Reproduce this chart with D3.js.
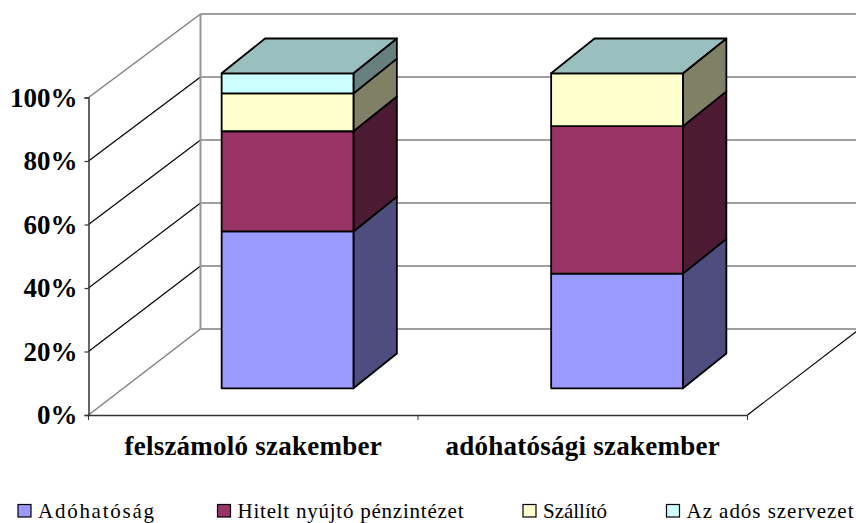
<!DOCTYPE html>
<html><head><meta charset="utf-8">
<script src="https://cdn.jsdelivr.net/npm/d3@7"></script>
<style>
html,body{margin:0;padding:0;background:#fff}
svg{display:block}
text{font-family:"Liberation Serif",serif;fill:#000}
</style></head><body>
<svg id="c" width="856" height="523"></svg>
<script>
const categories = ["felszámoló szakember", "adóhatósági szakember"];
const seriesNames = ["Adóhatóság", "Hitelt nyújtó pénzintézet", "Szállító", "Az adós szervezet"];
const adohatosag = [49.8, 36.4];
const hitelt = [31.8, 46.8];
const szallito = [12.0, 16.8];
const adosSzervezet = [6.4, 0];
const seriesValues = [adohatosag, hitelt, szallito, adosSzervezet];
const tickValues = [0, 20, 40, 60, 80, 100];
const frontColors = ["#9999FF", "#993366", "#FFFFCC", "#CCFFFF"];
const sideColors = ["#4D4D80", "#4D1A33", "#808066", "#668080"];
const topColor = "#9ABFBF";

const svg = d3.select("#c");
const L = 88.5, R = 747.5, B = 415, T = 97.5;
const wallDx = 112;
const barDx = 34.3, depthDx = 43.4, depthDy = -34.8;

const y = d3.scaleLinear().domain([0, 100]).range([B, T]);
const yBack = d3.scaleLinear().domain([0, 100]).range([329, 14]);
const yBar = d3.scaleLinear().domain([0, 100]).range([388.3, 73.3]);
const x = d3.scaleBand().domain(categories).range([L, R]).paddingInner(0.6).paddingOuter(0.3);
const xEdge = d3.scaleBand().domain(categories).range([L, R]);

// back wall and side wall gridlines
const grid = svg.append("g");
tickValues.forEach(t => {
  const edge = t === 0 || t === 100;
  grid.append("line")
    .attr("x1", L).attr("y1", y(t)).attr("x2", L + wallDx).attr("y2", yBack(t))
    .attr("stroke", edge ? "#808080" : "#000").attr("stroke-width", edge ? 1.5 : 1.15);
  grid.append("line")
    .attr("x1", L + wallDx).attr("y1", yBack(t)).attr("x2", 856).attr("y2", yBack(t))
    .attr("stroke", "#808080").attr("stroke-width", 1.6);
});
grid.append("line").attr("x1", L + wallDx).attr("x2", L + wallDx)
  .attr("y1", yBack(100)).attr("y2", yBack(0))
  .attr("stroke", "#969696").attr("stroke-width", 2);
grid.append("line").attr("x1", R).attr("y1", B).attr("x2", R + wallDx).attr("y2", yBack(0))
  .attr("stroke", "#000").attr("stroke-width", 1.15);

// bars
const bars = svg.append("g").attr("stroke", "#000").attr("stroke-width", 1.8).attr("stroke-linejoin", "round");
const poly = pts => pts.map(p => p.join(",")).join(" ");
categories.forEach((cat, i) => {
  const x0 = x(cat) + barDx, x1 = x0 + x.bandwidth();
  let acc = 0;
  seriesValues.forEach((vals, s) => {
    const v = vals[i];
    if (v <= 0) return;
    const y0 = yBar(acc), y1 = yBar(acc + v);
    acc += v;
    bars.append("polygon")
      .attr("points", poly([[x1, y0], [x1 + depthDx, y0 + depthDy], [x1 + depthDx, y1 + depthDy], [x1, y1]]))
      .attr("fill", sideColors[s]);
    bars.append("rect")
      .attr("x", x0).attr("y", y1).attr("width", x1 - x0).attr("height", y0 - y1)
      .attr("fill", frontColors[s]);
  });
  const yt = yBar(acc);
  bars.append("polygon")
    .attr("points", poly([[x0, yt], [x0 + depthDx, yt + depthDy], [x1 + depthDx, yt + depthDy], [x1, yt]]))
    .attr("fill", topColor);
});

// value axis
const yAxis = svg.append("g").attr("transform", `translate(${L},0)`)
  .call(d3.axisLeft(y).tickValues(tickValues).tickFormat(d => d + "%").tickSize(4).tickPadding(7));
yAxis.select(".domain").attr("stroke", "#333").attr("stroke-width", 1.5);
yAxis.selectAll(".tick line").attr("stroke", "#333").attr("stroke-width", 1.2);
yAxis.selectAll("text").attr("font-size", 27).attr("font-weight", "bold")
  .attr("dy", "0.32em")
  .style("font-family", '"Liberation Serif",serif').attr("fill", "#000");

// category axis
const xAxis = svg.append("g").attr("transform", `translate(0,${B})`)
  .call(d3.axisBottom(xEdge).tickSizeOuter(0).tickSizeInner(0).tickPadding(31));
xAxis.select(".domain").attr("stroke", "#333").attr("stroke-width", 1.5);
xAxis.selectAll("text").attr("font-size", 27).attr("font-weight", "bold")
  .attr("letter-spacing", 0.25).attr("dy", "0.32em")
  .style("font-family", '"Liberation Serif",serif').attr("fill", "#000");
[L, xEdge(categories[1]), R].forEach(px => {
  xAxis.append("line").attr("x1", px).attr("x2", px).attr("y1", 0).attr("y2", 5)
    .attr("stroke", "#333").attr("stroke-width", 1);
});

// legend
const legendX = d3.scaleOrdinal().domain(seriesNames).range([18, 217.5, 523, 666.5]);
const legendTextLength = d3.scaleOrdinal().domain(seriesNames).range([116, 226, 64, 167]);
const legend = svg.append("g");
seriesNames.forEach((n, s) => {
  const lx = legendX(n);
  legend.append("rect").attr("x", lx).attr("y", 504.5).attr("width", 13).attr("height", 12.5)
    .attr("fill", frontColors[s]).attr("stroke", "#000").attr("stroke-width", 1.2);
  legend.append("text").attr("x", lx + 20).attr("y", 518).attr("font-size", 21)
    .attr("textLength", legendTextLength(n)).attr("lengthAdjust", "spacing").text(n);
});
</script>
</body></html>
